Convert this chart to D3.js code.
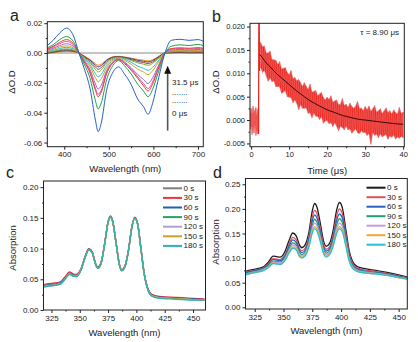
<!DOCTYPE html>
<html>
<head>
<meta charset="utf-8">
<script src="https://cdn.jsdelivr.net/npm/d3@7"></script>
<style>
  body { margin: 0; background: #fff; }
  svg { display: block; font-family: "Liberation Sans", Arial, sans-serif; }
</style>
</head>
<body>
<svg id="fig" width="418" height="342"></svg>
<script>
// ---- panel a: transient absorption spectra, 0 us (largest) .. 31.5 us (smallest)
const taWavelengths = [362, 375, 390, 405, 420, 433, 445, 458, 470, 476, 483, 495, 510, 522, 535, 550, 565, 578, 588, 598, 610, 626, 640, 660, 680, 700, 712];
const taSpectra = [
  [0.0050, 0.0085, 0.0135, 0.0167, 0.0120, 0.0000, -0.0105, -0.0240, -0.0450, -0.0527, -0.0470, -0.0250, -0.0125, -0.0093, -0.0140, -0.0210, -0.0310, -0.0360, -0.0411, -0.0340, -0.0190, 0.0000, 0.0085, 0.0092, 0.0085, 0.0090, 0.0078],
  [0.0035, 0.0055, 0.0090, 0.0110, 0.0080, 0.0000, -0.0075, -0.0170, -0.0320, -0.0375, -0.0335, -0.0180, -0.0080, -0.0050, -0.0085, -0.0140, -0.0210, -0.0255, -0.0293, -0.0245, -0.0140, 0.0000, 0.0045, 0.0055, 0.0050, 0.0058, 0.0050],
  [0.0028, 0.0045, 0.0072, 0.0090, 0.0065, 0.0000, -0.0060, -0.0135, -0.0250, -0.0293, -0.0262, -0.0140, -0.0065, -0.0045, -0.0070, -0.0115, -0.0170, -0.0220, -0.0255, -0.0210, -0.0115, 0.0000, 0.0030, 0.0035, 0.0032, 0.0036, 0.0032],
  [0.0022, 0.0040, 0.0063, 0.0078, 0.0056, 0.0000, -0.0055, -0.0125, -0.0236, -0.0277, -0.0248, -0.0130, -0.0060, -0.0042, -0.0065, -0.0105, -0.0160, -0.0205, -0.0238, -0.0195, -0.0105, 0.0000, 0.0025, 0.0030, 0.0027, 0.0030, 0.0026],
  [0.0018, 0.0032, 0.0050, 0.0062, 0.0045, 0.0000, -0.0050, -0.0112, -0.0207, -0.0242, -0.0217, -0.0118, -0.0056, -0.0040, -0.0060, -0.0098, -0.0145, -0.0178, -0.0205, -0.0168, -0.0093, 0.0000, 0.0020, 0.0024, 0.0021, 0.0024, 0.0020],
  [0.0012, 0.0025, 0.0040, 0.0048, 0.0035, 0.0000, -0.0042, -0.0092, -0.0165, -0.0193, -0.0173, -0.0098, -0.0048, -0.0035, -0.0050, -0.0075, -0.0108, -0.0128, -0.0145, -0.0120, -0.0068, 0.0000, 0.0015, 0.0018, 0.0016, 0.0018, 0.0015],
  [0.0008, 0.0018, 0.0030, 0.0038, 0.0028, 0.0000, -0.0035, -0.0078, -0.0138, -0.0160, -0.0143, -0.0082, -0.0040, -0.0030, -0.0042, -0.0062, -0.0088, -0.0103, -0.0116, -0.0097, -0.0055, 0.0000, 0.0012, 0.0014, 0.0012, 0.0014, 0.0012],
  [0.0005, 0.0012, 0.0022, 0.0028, 0.0020, 0.0000, -0.0030, -0.0064, -0.0110, -0.0127, -0.0114, -0.0066, -0.0034, -0.0028, -0.0036, -0.0050, -0.0066, -0.0075, -0.0082, -0.0070, -0.0040, 0.0000, 0.0008, 0.0010, 0.0008, 0.0010, 0.0008],
  [0.0002, 0.0008, 0.0017, 0.0022, 0.0016, 0.0000, -0.0026, -0.0056, -0.0094, -0.0109, -0.0098, -0.0058, -0.0030, -0.0026, -0.0032, -0.0044, -0.0057, -0.0064, -0.0070, -0.0060, -0.0034, 0.0000, 0.0005, 0.0007, 0.0005, 0.0006, 0.0005],
  [-0.0001, 0.0005, 0.0012, 0.0016, 0.0012, 0.0000, -0.0023, -0.0048, -0.0081, -0.0093, -0.0084, -0.0050, -0.0027, -0.0024, -0.0029, -0.0038, -0.0049, -0.0055, -0.0060, -0.0051, -0.0029, 0.0000, 0.0002, 0.0004, 0.0002, 0.0003, 0.0002],
  [-0.0004, 0.0002, 0.0008, 0.0010, 0.0008, 0.0000, -0.0020, -0.0043, -0.0072, -0.0082, -0.0074, -0.0045, -0.0025, -0.0022, -0.0026, -0.0034, -0.0043, -0.0048, -0.0053, -0.0045, -0.0026, 0.0000, -0.0001, 0.0000, -0.0002, -0.0001, -0.0002]
];
const taColors = ["#2a5fc9", "#22a04a", "#e23b3b", "#e04fa8", "#9a6acb", "#c9a520", "#25c0c8", "#7aa83a", "#8b4a2a", "#4a3a8a", "#f08a2a"];
const taArrowNm = 632;
const taArrowFrom = -0.0520, taArrowTo = -0.0086;

// ---- panel b: kinetic trace and single-exponential fit
const preTimes = [-0.3, 0, 0.25, 0.5, 0.75, 1, 1.25, 1.5, 1.75, 1.95];
const preUpper = [0.0018, 0.0025, 0.0012, 0.0030, 0.0015, 0.0022, 0.0027, 0.0010, 0.0024, 0.0016];
const preLower = [-0.0020, -0.0012, -0.0031, -0.0015, -0.0028, -0.0010, -0.0033, -0.0022, -0.0030, -0.0025];
const spikeTimes = [1.95, 2.02, 2.12, 2.2, 2.3];
const spikeValues = [-0.0030, 0.0240, 0.0240, 0.0105, 0.0166];
const decayTimes = d3.range(2.5, 40.01, 0.5);
const decayUpper = [0.0166, 0.0157, 0.0158, 0.0143, 0.0144, 0.0147, 0.0129, 0.0129, 0.0128, 0.0119, 0.0125, 0.0109, 0.0111, 0.0112, 0.0102, 0.0097,
  0.0106, 0.0089, 0.0091, 0.0084, 0.0087, 0.0080, 0.0072, 0.0080, 0.0072, 0.0066, 0.0077, 0.0060, 0.0061, 0.0063, 0.0052, 0.0056,
  0.0059, 0.0048, 0.0043, 0.0049, 0.0044, 0.0052, 0.0038, 0.0041, 0.0043, 0.0033, 0.0034, 0.0046, 0.0031, 0.0034, 0.0027, 0.0036,
  0.0029, 0.0025, 0.0030, 0.0040, 0.0024, 0.0026, 0.0020, 0.0029, 0.0022, 0.0030, 0.0019, 0.0024, 0.0031, 0.0017, 0.0020, 0.0024,
  0.0014, 0.0020, 0.0026, 0.0016, 0.0020, 0.0013, 0.0022, 0.0016, 0.0013, 0.0027, 0.0014, 0.0017];
const decayLower = [0.0112, 0.0102, 0.0106, 0.0094, 0.0083, 0.0090, 0.0082, 0.0084, 0.0071, 0.0072, 0.0071, 0.0057, 0.0060, 0.0063, 0.0050, 0.0049,
  0.0048, 0.0037, 0.0043, 0.0036, 0.0022, 0.0033, 0.0025, 0.0025, 0.0026, 0.0014, 0.0016, 0.0005, 0.0015, 0.0008, 0.0008, 0.0001,
  0.0007, -0.0007, -0.0002, -0.0001, -0.0008, -0.0006, -0.0014, -0.0006, -0.0013, -0.0023, -0.0013, -0.0016, -0.0021, -0.0013, -0.0021, -0.0019,
  -0.0028, -0.0023, -0.0019, -0.0027, -0.0029, -0.0023, -0.0027, -0.0026, -0.0033, -0.0029, -0.0052, -0.0027, -0.0033, -0.0030, -0.0038, -0.0030,
  -0.0036, -0.0033, -0.0031, -0.0041, -0.0034, -0.0037, -0.0032, -0.0041, -0.0036, -0.0039, -0.0035, -0.0038];
const fitTimes = [2.3, 3, 4, 5, 6, 7, 8, 9, 10, 11, 12, 13, 14, 15, 16, 18, 20, 22, 24, 26, 28, 30, 32, 34, 36, 38, 40];
const fitValues = [0.0140, 0.0133, 0.0122, 0.0114, 0.0105, 0.0097, 0.0090, 0.0083, 0.0076, 0.0069, 0.0062, 0.0056, 0.0050, 0.0044, 0.0039, 0.0030,
  0.0022, 0.0016, 0.0010, 0.0006, 0.0002, 0.0000, -0.0002, -0.0004, -0.0006, -0.0008, -0.0009];

// ---- panels c, d: steady-state absorption under irradiation
const absWavelengths = [317, 322, 328, 333, 337, 341, 344, 347, 351, 355, 358, 361, 364, 366, 369, 372, 375, 377, 379, 382, 385, 387, 390, 393, 396, 398.5, 401, 404, 407, 410, 414, 420, 430, 440, 450, 460];
const timeLabels = ["0 s", "30 s", "60 s", "90 s", "120 s", "150 s", "180 s"];
const absC = [
  [0.039, 0.041, 0.042, 0.044, 0.052, 0.060, 0.057, 0.056, 0.066, 0.088, 0.099, 0.094, 0.075, 0.069, 0.078, 0.108, 0.143, 0.152, 0.145, 0.110, 0.074, 0.065, 0.072, 0.097, 0.135, 0.150, 0.141, 0.100, 0.058, 0.035, 0.024, 0.021, 0.020, 0.019, 0.018, 0.017],
  [0.041, 0.043, 0.044, 0.046, 0.054, 0.062, 0.059, 0.058, 0.067, 0.089, 0.100, 0.095, 0.076, 0.070, 0.079, 0.109, 0.144, 0.153, 0.146, 0.111, 0.075, 0.066, 0.073, 0.098, 0.136, 0.151, 0.142, 0.101, 0.059, 0.036, 0.025, 0.022, 0.021, 0.020, 0.019, 0.018],
  [0.039, 0.041, 0.042, 0.044, 0.052, 0.060, 0.057, 0.056, 0.066, 0.088, 0.099, 0.094, 0.074, 0.068, 0.077, 0.108, 0.143, 0.152, 0.145, 0.110, 0.073, 0.064, 0.071, 0.097, 0.135, 0.150, 0.141, 0.100, 0.058, 0.035, 0.024, 0.021, 0.020, 0.019, 0.018, 0.017],
  [0.038, 0.040, 0.041, 0.043, 0.051, 0.059, 0.056, 0.055, 0.065, 0.087, 0.099, 0.094, 0.075, 0.069, 0.078, 0.108, 0.143, 0.152, 0.145, 0.110, 0.074, 0.065, 0.072, 0.097, 0.135, 0.150, 0.141, 0.100, 0.058, 0.034, 0.023, 0.020, 0.019, 0.018, 0.017, 0.016],
  [0.038, 0.040, 0.041, 0.043, 0.051, 0.059, 0.056, 0.055, 0.065, 0.087, 0.098, 0.093, 0.074, 0.068, 0.077, 0.107, 0.142, 0.151, 0.144, 0.109, 0.073, 0.064, 0.071, 0.096, 0.134, 0.149, 0.140, 0.099, 0.057, 0.034, 0.023, 0.020, 0.019, 0.018, 0.017, 0.016],
  [0.037, 0.039, 0.040, 0.042, 0.050, 0.058, 0.055, 0.055, 0.065, 0.087, 0.098, 0.093, 0.074, 0.068, 0.077, 0.107, 0.142, 0.151, 0.144, 0.109, 0.073, 0.064, 0.071, 0.096, 0.134, 0.149, 0.140, 0.099, 0.057, 0.034, 0.023, 0.020, 0.019, 0.018, 0.017, 0.016],
  [0.037, 0.039, 0.040, 0.042, 0.050, 0.058, 0.055, 0.054, 0.064, 0.087, 0.098, 0.093, 0.074, 0.068, 0.077, 0.107, 0.143, 0.151, 0.144, 0.109, 0.073, 0.064, 0.071, 0.096, 0.134, 0.149, 0.140, 0.099, 0.057, 0.033, 0.022, 0.019, 0.018, 0.017, 0.016, 0.016]
];
const absD = [
  [0.073, 0.076, 0.079, 0.083, 0.092, 0.104, 0.103, 0.102, 0.112, 0.137, 0.151, 0.145, 0.126, 0.121, 0.128, 0.152, 0.196, 0.211, 0.204, 0.170, 0.133, 0.124, 0.130, 0.155, 0.196, 0.213, 0.203, 0.160, 0.115, 0.093, 0.083, 0.079, 0.075, 0.071, 0.066, 0.060],
  [0.071, 0.074, 0.077, 0.081, 0.089, 0.099, 0.098, 0.097, 0.106, 0.129, 0.142, 0.137, 0.119, 0.115, 0.121, 0.144, 0.184, 0.197, 0.191, 0.160, 0.126, 0.118, 0.123, 0.146, 0.184, 0.200, 0.191, 0.151, 0.110, 0.089, 0.080, 0.076, 0.073, 0.069, 0.064, 0.059],
  [0.070, 0.073, 0.076, 0.080, 0.087, 0.097, 0.096, 0.095, 0.103, 0.125, 0.137, 0.132, 0.115, 0.111, 0.117, 0.139, 0.176, 0.188, 0.182, 0.153, 0.121, 0.114, 0.119, 0.140, 0.175, 0.190, 0.182, 0.145, 0.106, 0.086, 0.078, 0.074, 0.071, 0.068, 0.063, 0.058],
  [0.068, 0.071, 0.074, 0.078, 0.085, 0.094, 0.093, 0.092, 0.100, 0.120, 0.131, 0.127, 0.111, 0.107, 0.113, 0.133, 0.167, 0.179, 0.173, 0.146, 0.116, 0.110, 0.115, 0.134, 0.166, 0.180, 0.173, 0.139, 0.102, 0.084, 0.076, 0.073, 0.070, 0.067, 0.062, 0.058],
  [0.067, 0.070, 0.073, 0.077, 0.083, 0.092, 0.091, 0.090, 0.097, 0.116, 0.127, 0.123, 0.108, 0.104, 0.110, 0.129, 0.161, 0.171, 0.166, 0.141, 0.113, 0.107, 0.112, 0.130, 0.159, 0.171, 0.165, 0.134, 0.099, 0.082, 0.075, 0.072, 0.069, 0.066, 0.061, 0.057],
  [0.066, 0.069, 0.072, 0.076, 0.082, 0.090, 0.089, 0.088, 0.095, 0.113, 0.123, 0.119, 0.105, 0.102, 0.107, 0.125, 0.155, 0.164, 0.159, 0.136, 0.110, 0.104, 0.109, 0.126, 0.153, 0.164, 0.158, 0.129, 0.096, 0.080, 0.073, 0.070, 0.068, 0.065, 0.060, 0.056],
  [0.066, 0.069, 0.072, 0.075, 0.081, 0.089, 0.088, 0.087, 0.094, 0.111, 0.120, 0.117, 0.103, 0.100, 0.105, 0.122, 0.151, 0.160, 0.155, 0.133, 0.108, 0.102, 0.107, 0.123, 0.149, 0.160, 0.154, 0.126, 0.094, 0.079, 0.073, 0.070, 0.068, 0.065, 0.061, 0.057]
];
const colorsC = ["#7f7f7f", "#f0303c", "#1d5fc0", "#22a36a", "#b39ddb", "#c9a227", "#2bb5b0"];
const colorsD = ["#1a1a1a", "#e0505a", "#2860c8", "#1fa070", "#c39be0", "#f0a830", "#28c0d8"];

const svg = d3.select("#fig");
const FONT = "Liberation Sans, Arial, sans-serif";
const INK = "#222";
const hyphen = f => v => f(v).replace("\u2212", "-");

// Build a framed panel with ticks; returns its scales and a clipped layer
function makePanel(o) {
  const x = d3.scaleLinear().domain(o.xDomain).range([o.left, o.right]);
  const y = d3.scaleLinear().domain(o.yDomain).range([o.bottom, o.top]);
  const g = svg.append("g");

  svg.append("clipPath").attr("id", o.id)
    .append("rect")
    .attr("x", o.left).attr("y", o.top)
    .attr("width", o.right - o.left).attr("height", o.bottom - o.top);

  const axisStyle = a => {
    a.select(".domain").remove();
    a.selectAll("text").attr("font-family", FONT).attr("font-size", o.tickFont || 8).attr("fill", INK);
    a.selectAll("line").attr("stroke", "#222");
  };

  g.append("g").attr("transform", `translate(0,${o.bottom})`)
    .call(d3.axisBottom(x).tickValues(o.xMinor).tickFormat("").tickSize(1.5)).call(axisStyle);
  g.append("g").attr("transform", `translate(0,${o.bottom})`)
    .call(d3.axisBottom(x).tickValues(o.xTicks).tickFormat(o.xFormat).tickSize(3).tickPadding(2)).call(axisStyle);
  g.append("g").attr("transform", `translate(${o.left},0)`)
    .call(d3.axisLeft(y).tickValues(o.yMinor).tickFormat("").tickSize(1.5)).call(axisStyle);
  g.append("g").attr("transform", `translate(${o.left},0)`)
    .call(d3.axisLeft(y).tickValues(o.yTicks).tickFormat(o.yFormat).tickSize(3).tickPadding(2)).call(axisStyle);

  const layer = g.append("g").attr("clip-path", `url(#${o.id})`);

  g.append("rect")
    .attr("x", o.left).attr("y", o.top)
    .attr("width", o.right - o.left).attr("height", o.bottom - o.top)
    .attr("fill", "none").attr("stroke", "#222").attr("stroke-width", 1);

  // titles
  g.append("text").attr("x", (o.left + o.right) / 2).attr("y", o.xTitleY)
    .attr("text-anchor", "middle").attr("font-size", 9.5).attr("fill", INK).text(o.xTitle);
  g.append("text").attr("transform", `translate(${o.yTitleX},${o.yTitleY}) rotate(-90)`)
    .attr("text-anchor", "middle").attr("dominant-baseline", "central")
    .attr("font-size", 9.5).attr("fill", INK).text(o.yTitle);
  g.append("text").attr("x", o.letterX).attr("y", o.letterY)
    .attr("font-size", 16).attr("fill", INK).text(o.letter);

  return { x, y, g, layer };
}

function drawLegend(g, labels, colors, x0, y0, step) {
  labels.forEach((lab, i) => {
    const yy = y0 + i * step;
    g.append("line").attr("x1", x0).attr("x2", x0 + 19).attr("y1", yy).attr("y2", yy)
      .attr("stroke", colors[i]).attr("stroke-width", 2);
    g.append("text").attr("x", x0 + 20.5).attr("y", yy).attr("dominant-baseline", "central")
      .attr("font-size", 8).attr("fill", INK).text(lab);
  });
}

// ---------------- panel a
const pa = makePanel({
  id: "clipA", left: 47.3, right: 203.3, top: 21.7, bottom: 146.7,
  xDomain: [362, 712], yDomain: [-0.0628, 0.0210],
  xTicks: [400, 500, 600, 700], xMinor: [450, 550, 650], xFormat: d3.format("d"),
  yTicks: [-0.06, -0.04, -0.02, 0, 0.02], yMinor: [-0.05, -0.03, -0.01, 0.01], yFormat: hyphen(d3.format(".2f")),
  xTitle: "Wavelength (nm)", xTitleY: 171.5, yTitle: "\u0394O.D", yTitleX: 11, yTitleY: 82,
  letter: "a", letterX: 10, letterY: 21
});
pa.layer.append("line")
  .attr("x1", pa.x(362)).attr("x2", pa.x(712)).attr("y1", pa.y(0)).attr("y2", pa.y(0))
  .attr("stroke", "#8a8a8a").attr("stroke-width", 1.2);
const lineA = d3.line().x((d, i) => pa.x(taWavelengths[i])).y(d => pa.y(d)).curve(d3.curveMonotoneX);
pa.layer.selectAll("path.ta").data(taSpectra.slice().reverse()).join("path")
  .attr("class", "ta").attr("d", lineA).attr("fill", "none")
  .attr("stroke", (d, i) => taColors[taSpectra.length - 1 - i]).attr("stroke-width", 1);

// arrow showing delay progression
const ax = pa.x(taArrowNm);
pa.g.append("line").attr("x1", ax).attr("x2", ax)
  .attr("y1", pa.y(taArrowFrom)).attr("y2", pa.y(taArrowTo) + 7)
  .attr("stroke", "#555").attr("stroke-width", 1.6);
pa.g.append("path")
  .attr("d", `M${ax},${pa.y(taArrowTo)} L${ax - 3.5},${pa.y(taArrowTo) + 8} L${ax + 3.5},${pa.y(taArrowTo) + 8} Z`)
  .attr("fill", "#111");
const noteA = pa.g.append("g").attr("font-size", 8).attr("fill", INK);
noteA.append("text").attr("x", 172).attr("y", 85).text("31.5 \u03bcs");
noteA.append("text").attr("x", 172).attr("y", 95).text(".......");
noteA.append("text").attr("x", 172).attr("y", 103).text(".......");
noteA.append("text").attr("x", 172).attr("y", 116).text("0 \u03bcs");

// ---------------- panel b
const pb = makePanel({
  id: "clipB", left: 250, right: 404.3, top: 23.3, bottom: 146.7,
  xDomain: [-0.3, 40.3], yDomain: [-0.0057, 0.0207],
  xTicks: [0, 10, 20, 30, 40], xMinor: [5, 15, 25, 35], xFormat: d3.format("d"),
  yTicks: [-0.005, 0, 0.005, 0.01, 0.015, 0.02], yMinor: [-0.0025, 0.0025, 0.0075, 0.0125, 0.0175], yFormat: hyphen(d3.format(".3f")),
  xTitle: "Time (\u03bcs)", xTitleY: 174, yTitle: "\u0394O.D", yTitleX: 215, yTitleY: 82,
  letter: "b", letterX: 212, letterY: 22, tickFont: 7.5
});
const bandArea = d3.area().x(d => pb.x(d.t)).y0(d => pb.y(d.lo)).y1(d => pb.y(d.hi));
const preBand = preTimes.map((t, i) => ({ t, lo: preLower[i], hi: preUpper[i] }));
const decayBand = decayTimes.map((t, i) => ({ t, lo: decayLower[i], hi: decayUpper[i] }));
[preBand, decayBand].forEach(band => {
  pb.layer.append("path").attr("d", bandArea(band)).attr("fill", "#e8241c")
    .attr("stroke", "#f07c7c").attr("stroke-width", 0.6);
  // zigzag between the envelopes to give the noisy look
  const pts = [];
  band.forEach(d => { pts.push([pb.x(d.t), pb.y(d.hi)]); pts.push([pb.x(d.t), pb.y(d.lo)]); });
  pb.layer.append("path").attr("d", d3.line()(pts)).attr("fill", "none")
    .attr("stroke", "#f26a6a").attr("stroke-width", 0.5);
});
pb.layer.append("path")
  .attr("d", d3.line().x((d, i) => pb.x(spikeTimes[i])).y(d => pb.y(d))(spikeValues))
  .attr("fill", "none").attr("stroke", "#e8241c").attr("stroke-width", 1.2);
pb.layer.append("path")
  .attr("d", d3.line().x((d, i) => pb.x(fitTimes[i])).y(d => pb.y(d)).curve(d3.curveMonotoneX)(fitValues))
  .attr("fill", "none").attr("stroke", "#3a0a0a").attr("stroke-width", 1);
pb.g.append("text").attr("x", 399).attr("y", 35).attr("text-anchor", "end")
  .attr("font-size", 8).attr("fill", INK).text("\u03c4 = 8.90 \u03bcs");

// ---------------- panel c
const pc = makePanel({
  id: "clipC", left: 43.5, right: 205.5, top: 181, bottom: 310,
  xDomain: [318, 461], yDomain: [0, 0.21],
  xTicks: [325, 350, 375, 400, 425, 450], xMinor: [337.5, 362.5, 387.5, 412.5, 437.5], xFormat: d3.format("d"),
  yTicks: [0, 0.05, 0.1, 0.15, 0.2], yMinor: [0.025, 0.075, 0.125, 0.175], yFormat: d3.format(".2f"),
  xTitle: "Wavelength (nm)", xTitleY: 335.5, yTitle: "Absorption", yTitleX: 12.5, yTitleY: 248,
  letter: "c", letterX: 6, letterY: 178
});
const lineC = d3.line().x((d, i) => pc.x(absWavelengths[i])).y(d => pc.y(d)).curve(d3.curveMonotoneX);
pc.layer.selectAll("path.c").data(absC).join("path").attr("class", "c")
  .attr("d", lineC).attr("fill", "none").attr("stroke", (d, i) => colorsC[i]).attr("stroke-width", 1.3);
drawLegend(pc.g, timeLabels, colorsC, 163, 188.3, 9.6);

// ---------------- panel d
const pd = makePanel({
  id: "clipD", left: 245.5, right: 407.3, top: 178.5, bottom: 309,
  xDomain: [317, 457.5], yDomain: [-0.0035, 0.2618],
  xTicks: [325, 350, 375, 400, 425, 450], xMinor: [337.5, 362.5, 387.5, 412.5, 437.5], xFormat: d3.format("d"),
  yTicks: [0, 0.05, 0.1, 0.15, 0.2, 0.25], yMinor: [0.025, 0.075, 0.125, 0.175, 0.225], yFormat: d3.format(".2f"),
  xTitle: "Wavelength (nm)", xTitleY: 334, yTitle: "Absorption", yTitleX: 215.5, yTitleY: 242,
  letter: "d", letterX: 213, letterY: 178
});
const lineD = d3.line().x((d, i) => pd.x(absWavelengths[i])).y(d => pd.y(d)).curve(d3.curveMonotoneX);
pd.layer.selectAll("path.d").data(absD).join("path").attr("class", "d")
  .attr("d", lineD).attr("fill", "none").attr("stroke", (d, i) => colorsD[i]).attr("stroke-width", 1.3);
drawLegend(pd.g, timeLabels, colorsD, 366.5, 187.7, 9.5);
</script>
</body>
</html>
